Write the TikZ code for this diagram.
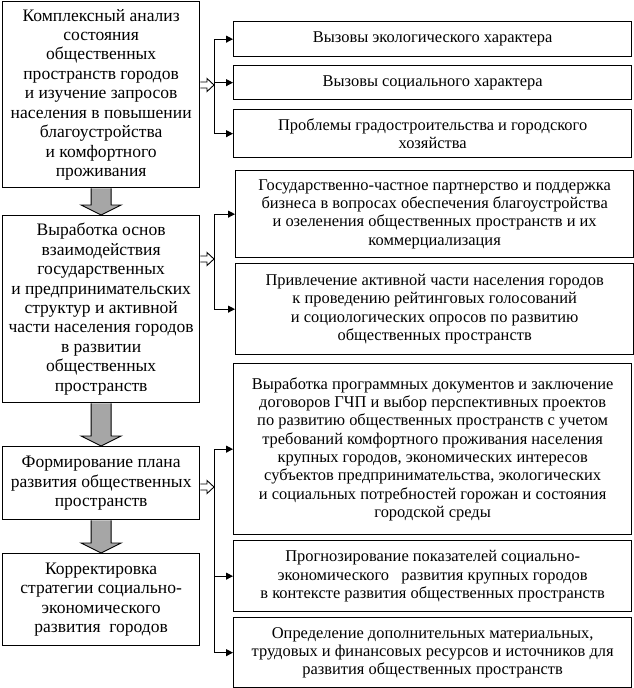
\documentclass[tikz,border=0pt]{standalone}
\usepackage{fontspec}
\setmainfont{Liberation Serif}
\usetikzlibrary{calc,arrows.meta}
\begin{document}
\begin{tikzpicture}[x=1bp,y=-1bp]
\tikzset{
 box/.style={draw, line width=1.3bp, anchor=north west, align=center, inner sep=0pt, font=\fontsize{16.5}{18.4}\selectfont},
 lbox/.style={box, minimum width=197bp, font=\fontsize{17.6}{19.5}\selectfont},
 rbox/.style={box, minimum width=398bp},
 grayarrow/.style={draw, fill=black!35, line width=0.9bp, line join=miter},
 hollow/.style={draw, fill=white, line width=0.9bp},
 conn/.style={line width=1bp, -{Triangle[length=7bp,width=7bp]}},
 trunk/.style={line width=1bp}
}
\useasboundingbox (0,0) rectangle (634,688);

% left column
\node[lbox, minimum height=186bp] (L1) at (2,1) {Комплексный анализ\\состояния\\общественных\\пространств городов\\и изучение запросов\\населения в повышении\\благоустройства\\и комфортного\\проживания};
\node[lbox, minimum height=187bp] (L2) at (2,215) {Выработка основ\\взаимодействия\\государственных\\и предпринимательских\\структур и активной\\части населения городов\\в развитии\\общественных\\пространств};
\node[lbox, minimum height=73bp] (L3) at (2,446) {Формирование плана\\развития общественных\\пространств};
\node[lbox, minimum height=92bp] (L4) at (2,553) {Корректировка\\стратегии социально-\\экономического\\развития\ \ городов};

% right column
\node[rbox, minimum height=35bp] (R1) at (233,21) {Вызовы экологического характера};
\node[rbox, minimum height=34bp] (R2) at (233,65) {Вызовы социального характера};
\node[rbox, minimum height=48bp] (R3) at (233,109) {Проблемы градостроительства и городского\\хозяйства};
\node[rbox, minimum height=87bp] (R4) at (235,170) {Государственно-частное партнерство и поддержка\\бизнеса в вопросах обеспечения благоустройства\\и озеленения общественных пространств и их\\коммерциализация};
\node[rbox, minimum height=91bp] (R5) at (235,263) {Привлечение активной части населения городов\\к проведению рейтинговых голосований\\и социологических опросов по развитию\\общественных пространств};
\node[rbox, minimum height=171bp] (R6) at (233,363) {Выработка программных документов и заключение\\договоров ГЧП и выбор перспективных проектов\\по развитию общественных пространств с учетом\\требований комфортного проживания населения\\крупных городов, экономических интересов\\субъектов предпринимательства, экологических\\и социальных потребностей горожан и состояния\\городской среды};
\node[rbox, minimum height=71bp] (R7) at (233,540) {Прогнозирование показателей социально-\\экономического\ \ \ развития крупных городов\\в контексте развития общественных пространств};
\node[rbox, minimum height=70bp] (R8) at (233,617) {Определение дополнительных материальных,\\трудовых и финансовых ресурсов и источников для\\развития общественных пространств};

% gray block arrows
\foreach \a/\b in {L1/L2, L2/L3, L3/L4}{
  \draw[grayarrow] ($(\a.south)+(-10,0)$) -- ($(\b.north)+(-10,-10)$) -- ($(\b.north)+(-20,-10)$)
    -- (\b.north) -- ($(\b.north)+(20,-10)$) -- ($(\b.north)+(10,-10)$) -- ($(\a.south)+(10,0)$);
}

% branch points
\coordinate (b1) at (214,85);
\coordinate (b2) at (214,259);
\coordinate (b3) at (214,487);

% hollow arrows
\foreach \a/\b in {L1/b1, L2/b2, L3/b3}{
  \draw[hollow] ($(\a.east |- \b)+(0,-3)$) -- ($(\b)+(-7,-3)$) -- ($(\b)+(-7,-6.5)$) -- (\b)
    -- ($(\b)+(-7,6.5)$) -- ($(\b)+(-7,3)$) -- ($(\a.east |- \b)+(0,3)$);
}

% trunks and branches
\draw[trunk] (b1 |- R1.west) -- (b1 |- R3.west);
\foreach \r in {R1,R2,R3}{ \draw[conn] (b1 |- \r.west) -- (\r.west); }
\draw[trunk] (b2 |- R4.west) -- (b2 |- R5.west);
\foreach \r in {R4,R5}{ \draw[conn] (b2 |- \r.west) -- (\r.west); }
\draw[trunk] (b3 |- R6.west) -- (b3 |- R8.west);
\foreach \r in {R6,R7,R8}{ \draw[conn] (b3 |- \r.west) -- (\r.west); }
\end{tikzpicture}
\end{document}
